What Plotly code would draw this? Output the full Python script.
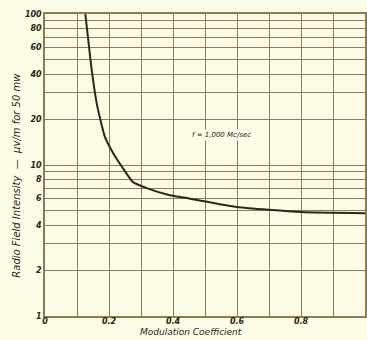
import plotly.graph_objects as go

# Data
mod_coeff = [0.126, 0.147, 0.1625, 0.1875, 0.21, 0.241, 0.275, 0.32, 0.39, 0.45, 0.6, 0.8, 1.0]
field_intensity = [100, 41, 25, 15.3, 12.3, 9.7, 7.7, 7.0, 6.3, 6.0, 5.27, 4.88, 4.8]

x_ticks = [0, 0.1, 0.2, 0.3, 0.4, 0.5, 0.6, 0.7, 0.8, 0.9, 1.0]
x_ticktext = ["0", "", "0.2", "", "0.4", "", "0.6", "", "0.8", "", "1.0"]
y_ticks = [1, 2, 3, 4, 5, 6, 7, 8, 9, 10, 20, 30, 40, 50, 60, 70, 80, 90, 100]
y_ticktext = ["1", "2", "", "4", "", "6", "", "8", "", "10", "20", "", "40", "", "60", "", "80", "", "100"]

paper = "#fbfbe6"
grid = "#8c7c52"
ink = "#2e2618"

fig = go.Figure()
fig.add_trace(go.Scatter(
    x=mod_coeff, y=field_intensity, mode="lines",
    line=dict(color=ink, width=2, shape="spline", smoothing=0.5),
    hoverinfo="skip", showlegend=False, cliponaxis=True,
))

tickfont = dict(family="DejaVu Sans", size=8, color=ink, style="italic", weight="bold")

fig.update_layout(
    width=367, height=340,
    margin=dict(l=45, r=2, t=14, b=24),
    paper_bgcolor=paper, plot_bgcolor=paper,
    xaxis=dict(
        range=[0, 1.0], tickvals=x_ticks, ticktext=x_ticktext,
        showgrid=True, gridcolor=grid, gridwidth=1.3,
        showline=True, linecolor=grid, linewidth=1.5, mirror=True,
        ticks="", tickfont=tickfont, zeroline=False, ticklabelstandoff=-3,
        automargin=False,
    ),
    yaxis=dict(
        type="log", range=[0, 2], tickvals=y_ticks, ticktext=y_ticktext,
        showgrid=True, gridcolor=grid, gridwidth=1.3,
        showline=True, linecolor=grid, linewidth=1.5, mirror=True,
        ticks="", tickfont=tickfont, zeroline=False, automargin=False,
    ),
    annotations=[
        dict(text="Radio Field Intensity  —  μv/m for 50 mw", textangle=-90,
             xref="paper", yref="paper", x=-0.112, y=0.467, showarrow=False,
             font=dict(family="DejaVu Sans", size=10, color=ink, style="italic")),
        dict(text="Modulation Coefficient",
             xref="paper", yref="paper", x=0.456, y=-0.054, yanchor="middle", showarrow=False,
             font=dict(family="DejaVu Sans", size=9, color=ink, style="italic")),
        dict(text="f = 1,000 Mc/sec",
             xref="x", yref="y", x=0.55, y=1.2, showarrow=False,
             bgcolor=paper,
             font=dict(family="DejaVu Sans", size=7, color=ink, style="italic")),
    ],
)

fig.write_html("out.html", config={"displayModeBar": False},
               post_script="document.body.style.margin='0';")
